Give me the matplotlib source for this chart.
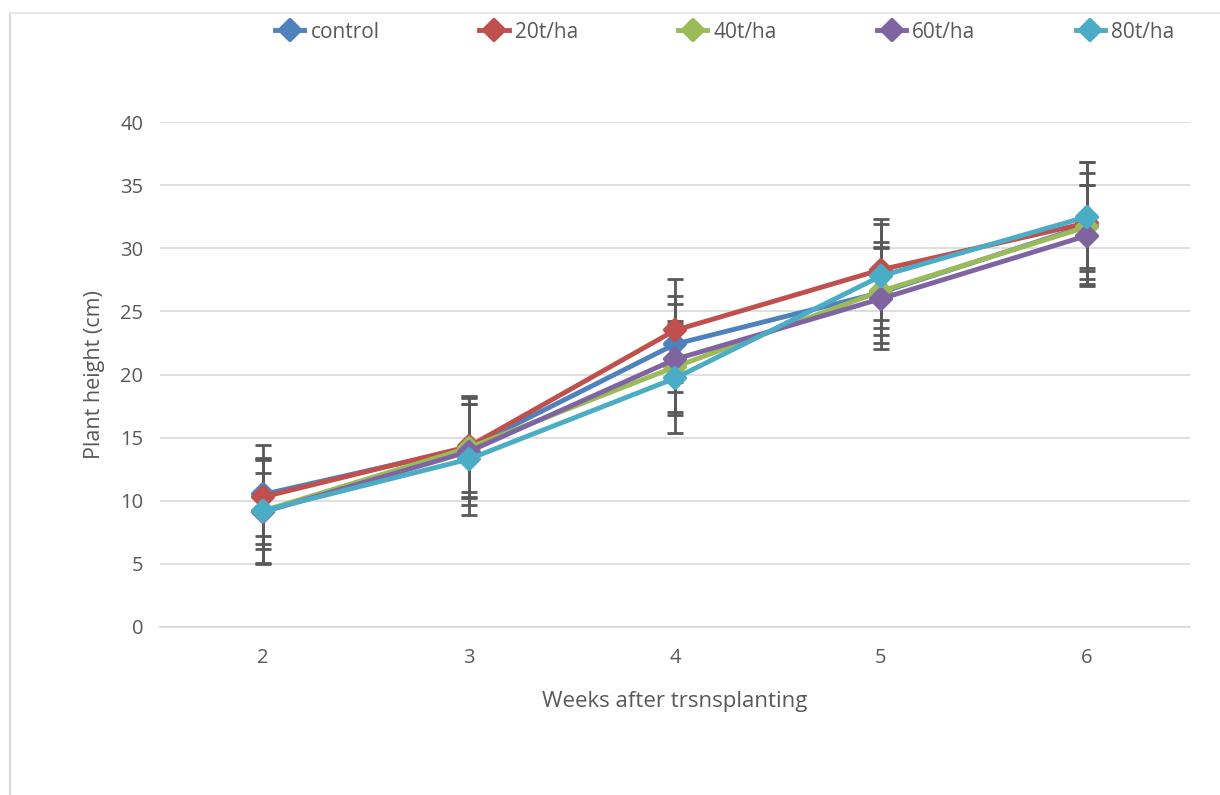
import matplotlib.pyplot as plt
from matplotlib.lines import Line2D
from matplotlib.markers import MarkerStyle

# data
weeks = [2, 3, 4, 5, 6]
series_names = ['control', '20t/ha', '40t/ha', '60t/ha', '80t/ha']
control = [10.5, 14.2, 22.4, 26.5, 31.8]
t20 = [10.3, 14.3, 23.5, 28.3, 32.0]
t40 = [9.2, 14.2, 20.6, 26.6, 31.7]
t60 = [9.1, 13.9, 21.2, 26.0, 31.0]
t80 = [9.2, 13.3, 19.7, 27.8, 32.5]
control_err = [3.9, 4.0, 3.8, 4.0, 4.2]
t20_err = [3.1, 4.0, 4.1, 4.0, 4.8]
t40_err = [3.0, 3.5, 3.6, 3.5, 3.3]
t60_err = [4.1, 4.2, 4.4, 4.0, 4.0]
t80_err = [4.1, 4.4, 4.3, 4.1, 4.3]

values = [control, t20, t40, t60, t80]
errors = [control_err, t20_err, t40_err, t60_err, t80_err]
colors = ['#4F81BD', '#C0504D', '#9BBB59', '#8064A2', '#4BACC6']

plt.rcParams['font.family'] = ['Open Sans', 'DejaVu Sans']

fig = plt.figure(figsize=(12.2, 7.95), dpi=100)
ax = fig.add_axes([160 / 1220, 1 - 627 / 795, 1030 / 1220, 505 / 795])

mk = MarkerStyle('D', joinstyle='round')

for vals, errs, c in zip(values, errors, colors):
    ax.errorbar(weeks, vals, yerr=errs, fmt='none', ecolor='#595959',
                elinewidth=2, capsize=6, capthick=2, zorder=2)
for name, vals, c in zip(series_names, values, colors):
    ax.plot(weeks, vals, color=c, lw=3.5, marker=mk, markersize=10,
            markeredgewidth=3, label=name, zorder=3)

ax.set_xlim(1.5, 6.5)
ax.set_ylim(0, 40)
ax.set_yticks(range(0, 41, 5))
ax.set_xticks(weeks)
ax.grid(axis='y', color='#d9d9d9', lw=1.2)
ax.set_axisbelow(True)
for s in ['top', 'right', 'left']:
    ax.spines[s].set_visible(False)
ax.spines['bottom'].set_color('#d9d9d9')
ax.spines['bottom'].set_linewidth(1.2)
ax.tick_params(length=0, labelsize=14.5, colors='#595959', pad=12)
ax.tick_params(axis='x', pad=15)
ax.set_xlabel('Weeks after trsnsplanting', fontsize=16, color='#595959', labelpad=17)
ax.set_ylabel('Plant height (cm)', fontsize=15.5, color='#595959', labelpad=11)

handles = [Line2D([0], [0], color=c, lw=3.5, marker=mk, markersize=10, markeredgewidth=3)
           for c in colors]
fig.legend(handles, series_names, loc='center', bbox_to_anchor=(0.594, 1 - 32 / 795),
           ncol=5, frameon=False, fontsize=15, handlelength=1.4,
           columnspacing=4.8, handletextpad=0.3, labelcolor='#595959')

# light outer chart border
fig.add_artist(Line2D([10 / 1220, 10 / 1220], [0, 1 - 13 / 795], color='#d9d9d9', lw=1.5))
fig.add_artist(Line2D([10 / 1220, 1], [1 - 13 / 795, 1 - 13 / 795], color='#e6e6e6', lw=1.2))

fig.savefig('out.png', dpi=100)
